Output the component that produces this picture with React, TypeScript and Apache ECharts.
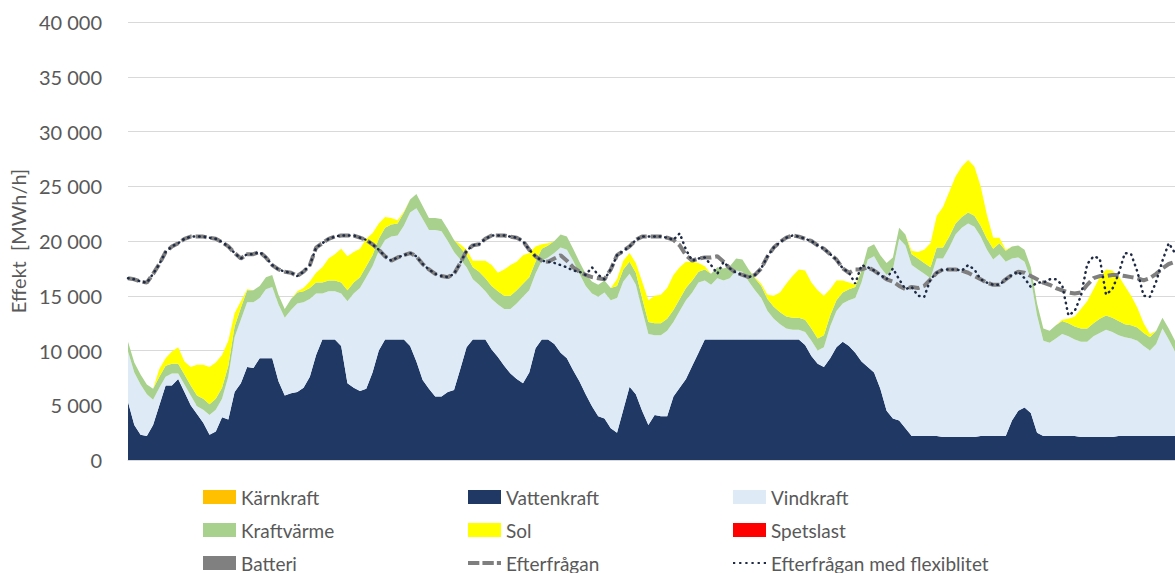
import React, { useEffect, useRef } from "react";
import * as echarts from "echarts";

const hours: number[] = Array.from({ length: 168 }, (_, i) => i + 1);

const karnkraft: number[] = Array(168).fill(0);
const spetslast: number[] = Array(168).fill(0);
const batteri: number[] = Array(168).fill(0);

const vattenkraft: number[] = [
  5300, 3200, 2300, 2200, 3200, 5000, 6800, 6800, 7400, 6200,
  5000, 4200, 3400, 2300, 2600, 3900, 3700, 6200, 7000, 8500,
  8400, 9300, 9300, 9300, 7200, 5900, 6100, 6200, 6600, 7600,
  9600, 11000, 11000, 11000, 10400, 7000, 6600, 6300, 6500, 8000,
  10000, 11000, 11000, 11000, 11000, 10400, 9000, 7300, 6500, 5800,
  5800, 6200, 6400, 8300, 10300, 11000, 11000, 11000, 10100, 9400,
  8600, 7900, 7400, 7000, 8000, 10200, 11000, 11000, 10600, 9800,
  9300, 8200, 7200, 6000, 4900, 4000, 3800, 2900, 2500, 4600,
  6700, 6000, 4500, 3200, 4100, 4000, 4000, 5800, 6600, 7400,
  8600, 9800, 11000, 11000, 11000, 11000, 11000, 11000, 11000, 11000,
  11000, 11000, 11000, 11000, 11000, 11000, 11000, 11000, 10500, 9500,
  8800, 8500, 9300, 10300, 10800, 10400, 9800, 9000, 8500, 8000,
  6500, 4500, 3800, 3600, 2900, 2200, 2200, 2200, 2200, 2200,
  2100, 2100, 2100, 2100, 2100, 2100, 2200, 2200, 2200, 2200,
  2200, 3600, 4500, 4800, 4300, 2500, 2200, 2200, 2200, 2200,
  2200, 2200, 2100, 2100, 2100, 2100, 2100, 2100, 2200, 2200,
  2200, 2200, 2200, 2200, 2200, 2200, 2200, 2200,
];

const vindkraft: number[] = [
  4600, 4800, 4600, 3800, 2300, 1600, 800, 1100, 500, 700,
  900, 700, 1200, 1800, 2000, 1700, 3900, 5000, 5800, 5900,
  6000, 5500, 6300, 6500, 7000, 7100, 7600, 8100, 7800, 7100,
  5600, 4200, 4400, 4400, 4800, 7500, 8600, 9400, 10200, 9700,
  9100, 9100, 9400, 9500, 10400, 12200, 14000, 14700, 14500, 15200,
  15100, 13800, 12600, 10000, 7300, 5500, 5000, 4400, 4600, 4800,
  5200, 5900, 6900, 7900, 7500, 6800, 7200, 7500, 8300, 9600,
  9900, 10000, 9800, 9900, 10300, 10900, 11500, 11700, 12300, 11700,
  10300, 10000, 9200, 8300, 7300, 7400, 7800, 6800, 7000, 7200,
  6700, 6400, 5400, 5000, 5600, 5400, 5600, 6300, 6200, 5300,
  4500, 3800, 2600, 1900, 1400, 1000, 900, 900, 1200, 1400,
  1200, 1800, 2900, 3300, 3500, 4200, 5000, 7200, 9800, 10600,
  11100, 12400, 13600, 16600, 16700, 15600, 15200, 14800, 14400, 16200,
  16300, 17300, 18500, 19100, 19500, 19200, 18200, 17000, 16100, 16600,
  15900, 14800, 14000, 13300, 12200, 10700, 8700, 8500, 8900, 9300,
  9100, 8800, 8700, 8700, 9200, 9500, 9800, 9600, 9200, 9000,
  8900, 8700, 8200, 7800, 8400, 9800, 8800, 7700,
];

const kraftvarme: number[] = [
  900, 900, 900, 900, 1000, 1000, 1000, 900, 900, 900,
  900, 1000, 1000, 1000, 1000, 1000, 1000, 1000, 1100, 1100,
  1100, 1100, 1100, 1100, 900, 800, 1000, 1000, 1000, 1000,
  1000, 1000, 1000, 1000, 1000, 1000, 1000, 1000, 1000, 1000,
  1100, 1100, 1100, 1100, 1200, 1200, 1300, 1200, 1100, 1100,
  1100, 1100, 1100, 1100, 1100, 1100, 1200, 1200, 1200, 1200,
  1200, 1200, 1200, 1200, 1200, 1100, 1100, 1100, 1100, 1200,
  1200, 1100, 1100, 1100, 1100, 1100, 1100, 1100, 1100, 1100,
  1100, 1100, 1100, 1100, 1100, 1100, 1100, 1100, 1100, 1100,
  1100, 1000, 1000, 1000, 1000, 1100, 1100, 1100, 1100, 1100,
  1100, 1100, 1100, 1100, 1100, 1100, 1100, 1100, 1100, 1100,
  1100, 1100, 1000, 1000, 1000, 1000, 1000, 1100, 1100, 1100,
  1100, 1100, 1100, 1000, 1000, 1000, 1000, 1000, 1000, 1000,
  1000, 1000, 1000, 1000, 1000, 1000, 1000, 1000, 1000, 1000,
  1000, 1100, 1100, 1100, 1100, 1100, 1100, 1100, 1200, 1200,
  1200, 1200, 1200, 1200, 1200, 1300, 1300, 1300, 1300, 1200,
  1200, 1200, 1200, 1200, 1200, 1000, 1000, 1000,
];

const sol: number[] = [
  0, 0, 0, 0, 0, 700, 700, 1100, 1500, 1200,
  1700, 2800, 3100, 3400, 3300, 3000, 2300, 1200, 600, 100,
  0, 0, 0, 0, 0, 0, 0, 100, 300, 600,
  900, 1400, 2000, 2400, 3100, 3100, 2800, 2600, 2500, 2000,
  1400, 1000, 600, 300, 100, 0, 0, 0, 0, 0,
  0, 0, 0, 300, 500, 600, 1000, 1600, 1900, 1700,
  2400, 2800, 2600, 2600, 2200, 1400, 400, 200, 0, 0,
  0, 0, 0, 0, 0, 0, 0, 0, 600, 800,
  800, 900, 1500, 2000, 2500, 2600, 2800, 3200, 2900, 2400,
  1700, 800, 300, 0, 0, 0, 0, 0, 0, 0,
  100, 200, 400, 1000, 1800, 3000, 3800, 4400, 4500, 4200,
  4400, 3600, 2400, 1800, 1100, 600, 200, 0, 0, 0,
  0, 0, 0, 0, 0, 300, 600, 1200, 2200, 2900,
  3700, 4100, 4300, 4600, 4800, 4500, 3600, 2200, 1000, 500,
  100, 0, 0, 0, 0, 0, 0, 0, 0, 100,
  400, 900, 1800, 2500, 3100, 3800, 4200, 4300, 4100, 3500,
  2700, 1800, 900, 300, 0, 0, 0, 0,
];

const efterfragan: number[] = [
  16600, 16500, 16300, 16200, 17000, 17900, 19000, 19500, 19800, 20200,
  20400, 20400, 20400, 20300, 20200, 19900, 19500, 18900, 18400, 18800,
  18800, 19000, 18500, 17800, 17400, 17200, 17100, 16800, 17200, 17800,
  19400, 19800, 20200, 20400, 20500, 20500, 20500, 20300, 20100, 19700,
  19200, 18600, 18200, 18500, 18700, 18900, 18600, 17900, 17400, 17000,
  16800, 16700, 17000, 18000, 19100, 19600, 19700, 20200, 20500, 20500,
  20500, 20400, 20300, 20000, 19200, 18600, 18200, 18100, 18400, 18700,
  18200, 17600, 17200, 16900, 16700, 16600, 16500, 17400, 18700, 19100,
  19500, 20100, 20400, 20400, 20400, 20400, 20300, 20100, 19600, 18700,
  18200, 18400, 18500, 18500, 18600, 18100, 17500, 17100, 16900, 16700,
  16900, 17500, 18600, 19400, 19900, 20300, 20500, 20400, 20200, 20000,
  19600, 19300, 18800, 18300, 17500, 17100, 17400, 17400, 17600, 17300,
  16900, 16500, 16300, 15900, 15600, 15800, 15700, 15900, 16500, 17100,
  17400, 17400, 17400, 17300, 17100, 16800, 16500, 16200, 16000, 16000,
  16500, 16900, 17200, 17100, 16800, 16500, 16200, 16000, 15700, 15500,
  15300, 15200, 15300, 16000, 16600, 16800, 16800, 16900, 16900, 16800,
  16700, 16600, 16400, 16600, 17000, 17500, 17900, 18100,
];

const efterfraganFlex: number[] = [
  16600, 16500, 16300, 16200, 17000, 17900, 19000, 19500, 19800, 20200,
  20400, 20400, 20400, 20300, 20200, 19900, 19500, 18900, 18400, 18800,
  18800, 19000, 18500, 17800, 17400, 17200, 17100, 16800, 17200, 17800,
  19400, 19800, 20200, 20400, 20500, 20500, 20500, 20300, 20100, 19700,
  19200, 18600, 18200, 18500, 18700, 18900, 18600, 17900, 17400, 17000,
  16800, 16700, 17000, 18000, 19100, 19600, 19700, 20200, 20500, 20500,
  20500, 20400, 20300, 20000, 19200, 18600, 18200, 18100, 18000, 17800,
  17600, 17300, 17200, 16900, 17600, 16900, 16500, 17400, 18700, 19100,
  19500, 20100, 20400, 20400, 20400, 20400, 20300, 20100, 20700, 19200,
  18200, 18400, 18500, 17800, 17000, 18100, 17500, 17100, 16900, 16700,
  16900, 17500, 18600, 19400, 19900, 20300, 20500, 20400, 20200, 20000,
  19600, 19300, 18800, 18300, 17500, 17100, 16100, 17800, 17600, 17300,
  16900, 16500, 17500, 16500, 15600, 15800, 15000, 14900, 16500, 17100,
  17400, 17400, 17400, 17300, 17800, 17400, 16500, 16200, 16000, 16000,
  16500, 16900, 17200, 16600, 15800, 16200, 16200, 16500, 16500, 16000,
  13200, 13600, 15000, 17900, 18600, 18400, 15100, 15600, 17000, 18900,
  18800, 17200, 15000, 14900, 16300, 18200, 19800, 18900,
];

const yTicks = { min: 0, max: 40000, interval: 5000 };

const FONT = "Lato, 'Open Sans', sans-serif";
const TEXT = "#595959";
const DEMAND_COLOR = "#7F7F7F";
const FLEX_COLOR = "#1F2A44";

const dashIcon = "path://M0,0h11v4h-11z M14,0h11v4h-11z M28,0h4v4h-4z";
const dotIcon =
  "path://M0,0h2v2h-2z M5.5,0h2v2h-2z M11,0h2v2h-2z M16.5,0h2v2h-2z M22,0h2v2h-2z M27.5,0h2v2h-2z";

function areaSeries(name: string, data: number[], color: string) {
  return {
    name,
    type: "line",
    stack: "total",
    data,
    symbol: "none",
    showSymbol: false,
    silent: true,
    color,
    itemStyle: { color },
    lineStyle: { width: 0, color },
    areaStyle: { color, opacity: 1 },
  };
}

function fmt(v: number): string {
  return String(v).replace(/\B(?=(\d{3})+(?!\d))/g, " ");
}

export default function App() {
  const ref = useRef<HTMLDivElement>(null);
  useEffect(() => {
    if (!ref.current) return;
    const chart = echarts.init(ref.current, undefined, { renderer: "svg" });
    const legendBase = {
      orient: "vertical",
      top: 487,
      height: 86,
      padding: 0,
      itemWidth: 33,
      itemHeight: 14,
      itemGap: 13,
      symbolKeepAspect: true,
      selectedMode: false,
      textStyle: { color: TEXT, fontSize: 19, fontFamily: FONT, lineHeight: 20 },
    };
    chart.setOption({
      animation: false,
      backgroundColor: "#ffffff",
      grid: { left: 128, right: 0, top: 22, bottom: 113, containLabel: false },
      legend: [
        {
          ...legendBase,
          left: 203,
          data: [
            { name: "Kärnkraft", icon: "rect" },
            { name: "Kraftvärme", icon: "rect" },
            { name: "Batteri", icon: "rect" },
          ],
        },
        {
          ...legendBase,
          left: 468,
          data: [
            { name: "Vattenkraft", icon: "rect" },
            { name: "Sol", icon: "rect" },
            { name: "Efterfrågan", icon: dashIcon },
          ],
        },
        {
          ...legendBase,
          left: 733,
          data: [
            { name: "Vindkraft", icon: "rect" },
            { name: "Spetslast", icon: "rect" },
            { name: "Efterfrågan med flexiblitet", icon: dotIcon },
          ],
        },
      ],
      xAxis: {
        type: "category",
        boundaryGap: false,
        data: hours,
        axisLabel: { show: false },
        axisTick: { show: false },
        axisLine: { show: true, lineStyle: { color: "#D9D9D9", width: 1 } },
        splitLine: { show: false },
      },
      yAxis: {
        type: "value",
        min: yTicks.min,
        max: yTicks.max,
        interval: yTicks.interval,
        name: "Effekt  [MWh/h]",
        nameLocation: "middle",
        nameRotate: 90,
        nameGap: 96,
        nameTextStyle: { color: TEXT, fontSize: 20, fontFamily: FONT },
        axisLine: { show: false },
        axisTick: { show: false },
        axisLabel: {
          color: TEXT,
          fontSize: 20,
          fontFamily: FONT,
          margin: 26,
          formatter: (v: number) => fmt(v),
        },
        splitLine: { show: true, lineStyle: { color: "#D9D9D9", width: 1 } },
      },
      series: [
        areaSeries("Kärnkraft", karnkraft, "#FFC000"),
        areaSeries("Vattenkraft", vattenkraft, "#203864"),
        areaSeries("Vindkraft", vindkraft, "#DEEBF7"),
        areaSeries("Kraftvärme", kraftvarme, "#A9D18E"),
        areaSeries("Sol", sol, "#FFFF00"),
        areaSeries("Spetslast", spetslast, "#FF0000"),
        areaSeries("Batteri", batteri, "#808080"),
        {
          name: "Efterfrågan",
          type: "line",
          data: efterfragan,
          symbol: "none",
          showSymbol: false,
          silent: true,
          color: DEMAND_COLOR,
          itemStyle: { color: DEMAND_COLOR },
          lineStyle: { color: DEMAND_COLOR, width: 4, type: [11, 4] },
          z: 3,
        },
        {
          name: "Efterfrågan med flexiblitet",
          type: "line",
          data: efterfraganFlex,
          symbol: "none",
          showSymbol: false,
          silent: true,
          color: FLEX_COLOR,
          itemStyle: { color: FLEX_COLOR },
          lineStyle: { color: FLEX_COLOR, width: 2.5, type: [0.5, 5], cap: "round" },
          z: 4,
        },
      ],
    });
    return () => chart.dispose();
  }, []);
  return (
    <div
      ref={ref}
      style={{ position: "absolute", left: 0, top: 0, width: 1175, height: 573 }}
    />
  );
}
